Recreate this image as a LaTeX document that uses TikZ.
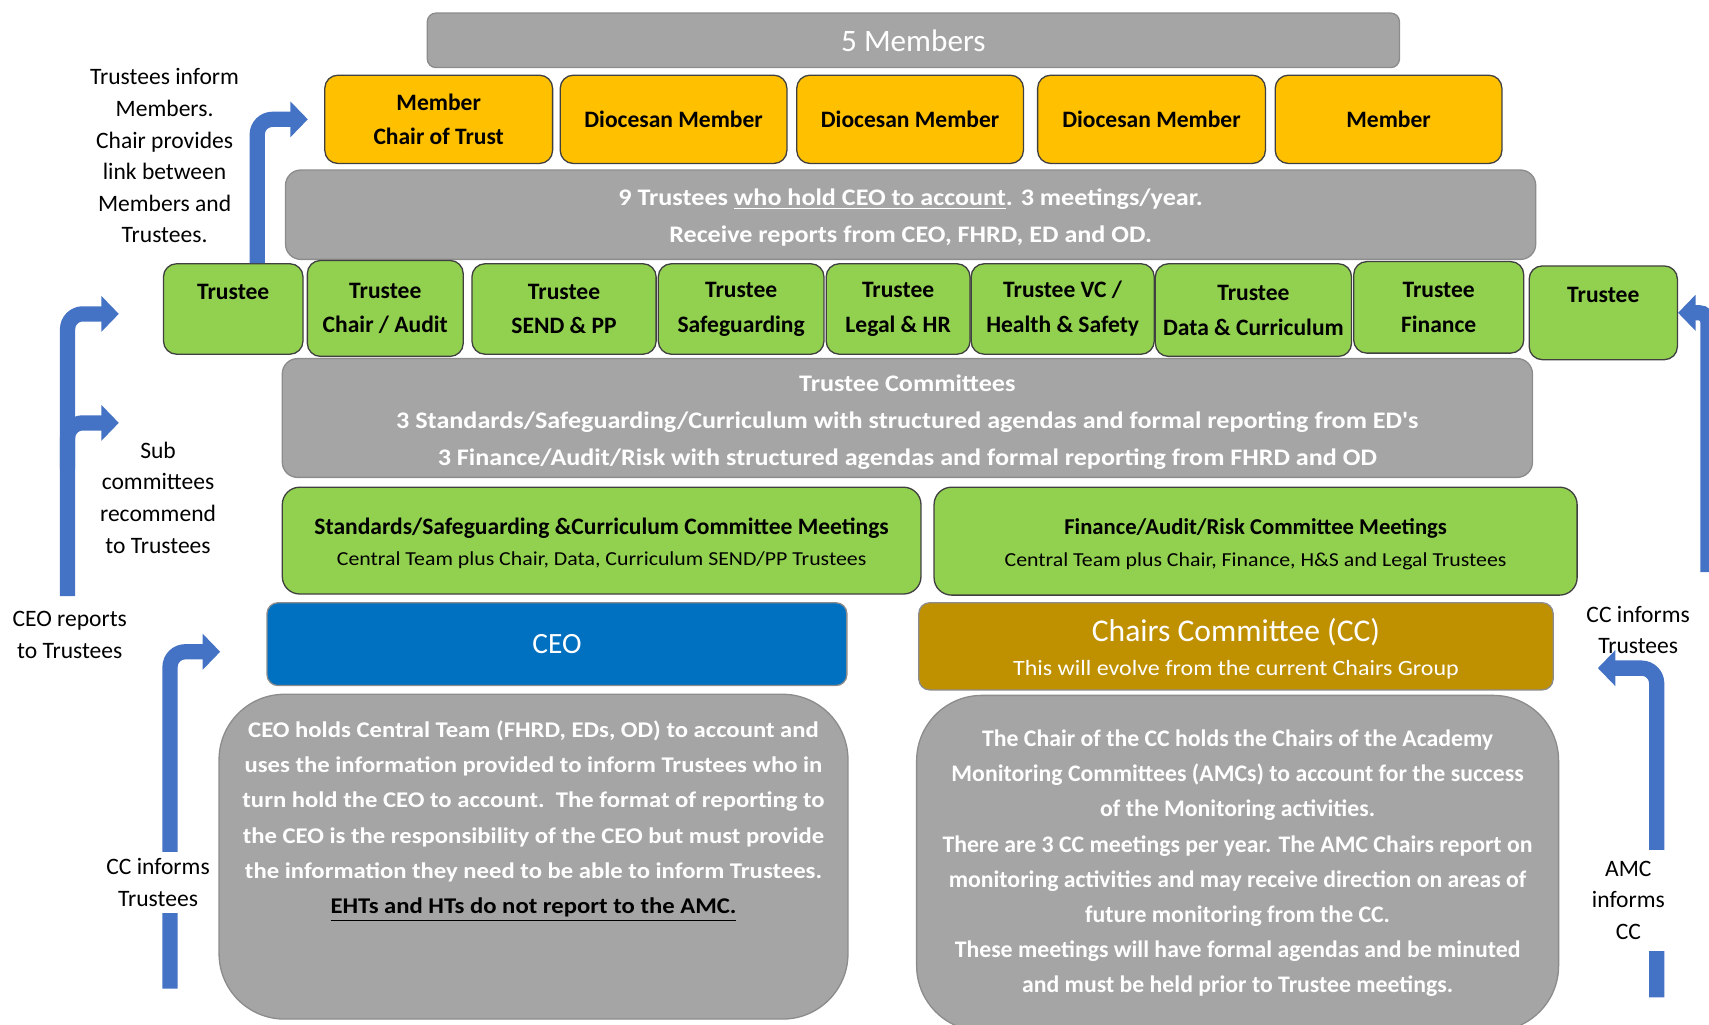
\documentclass[tikz,border=0pt]{standalone}
\usepackage{fontspec}
\setmainfont{Carlito}
\newfontfamily\wideface{Carlito}[FakeStretch=1.1]
\usepackage{tikz}
\usetikzlibrary{arrows.meta}
\definecolor{boxgray}{HTML}{A5A5A5}
\definecolor{grayedge}{HTML}{8C8C8C}
\definecolor{memorange}{HTML}{FFC000}
\definecolor{trgreen}{HTML}{92D050}
\definecolor{ceoblue}{HTML}{0070C0}
\definecolor{ccgold}{HTML}{BF9000}
\definecolor{flowblue}{HTML}{4472C4}
\definecolor{darkedge}{HTML}{404040}
\tikzset{
every node/.style={align=center, inner sep=0pt},
boxbase/.style={ % common look of all boxes
draw, line width=0.6pt, rounded corners=6pt},
topbox/.style={boxbase, fill=boxgray, draw=grayedge, rounded corners=4pt,
text=white, font=\fontsize{14.3}{16}\selectfont},
memberbox/.style={boxbase, fill=memorange, draw=darkedge,
minimum height=40.5pt, font=\bfseries\fontsize{10.8}{16}\selectfont},
graybox/.style={boxbase, fill=boxgray, draw=grayedge, rounded corners=7pt,
text=white, font=\wideface\bfseries\fontsize{10.9}{17}\selectfont},
trusteebox/.style={boxbase, fill=trgreen, draw=darkedge,
minimum height=41.5pt, font=\bfseries\fontsize{10.8}{16}\selectfont},
meetbox/.style={boxbase, fill=trgreen, draw=darkedge, rounded corners=8pt,
font=\wideface\fontsize{9.1}{14.5}\selectfont},
ceobox/.style={boxbase, fill=ceoblue, draw=grayedge, rounded corners=5pt,
text=white, font=\fontsize{13.5}{16}\selectfont},
ccbox/.style={boxbase, fill=ccgold, draw=grayedge, rounded corners=5pt,
text=white, font=\wideface\fontsize{10}{15.5}\selectfont},
notebox/.style={boxbase, fill=boxgray, draw=grayedge, rounded corners=30pt,
text=white, font=\bfseries\fontsize{10.3}{16.2}\selectfont},
sidelabel/.style={font=\fontsize{10.8}{14.5}\selectfont},
flow/.style={ % thick blue bent arrows
draw=flowblue, line width=7pt, rounded corners=7pt,
-{Triangle[width=16pt,length=8pt]}}}

\begin{document}
\begin{tikzpicture}[x=0.5pt, y=-0.5pt]
\clip (0,0) rectangle (1568,940);

% members
\node[topbox, minimum width=446pt, minimum height=25pt] (members) at (838,37) {5 Members};
\node[memberbox, minimum width=104.5pt] (memchair) at (402.5,109.5) {Member\\Chair of Trust};
\node[memberbox, minimum width=104pt] (dioc1) at (618,109.5) {Diocesan Member};
\node[memberbox, minimum width=104pt] (dioc2) at (835,109.5) {Diocesan Member};
\node[memberbox, minimum width=104.5pt] (dioc3) at (1056.5,109.5) {Diocesan Member};
\node[memberbox, minimum width=104pt] (member5) at (1274,109.5) {Member};

% trustees
\node[graybox, minimum width=573.5pt, minimum height=41pt] (board) at (835.5,197)
{\rule{0pt}{10.2pt}9 Trustees \underline{who hold CEO to account}. 3 meetings/year.\\Receive reports from CEO, FHRD, ED and OD.};
\node[trusteebox, minimum width=64pt] (tr1) at (214,283.5) {Trustee\\~};
\node[trusteebox, minimum width=71.5pt, minimum height=44pt] (tr2) at (353.5,283) {Trustee\\Chair / Audit};
\node[trusteebox, minimum width=84.5pt] (tr3) at (517.5,283.5) {Trustee\\SEND \& PP};
\node[trusteebox, minimum width=76pt] (tr4) at (680,283.5) {Trustee\\Safeguarding};
\node[trusteebox, minimum width=66pt] (tr5) at (824,283.5) {Trustee\\Legal \& HR};
\node[trusteebox, minimum width=84pt] (tr6) at (975,283.5) {Trustee VC /\\Health \& Safety};
\node[trusteebox, minimum width=90pt, minimum height=42.5pt] (tr7) at (1150,284.5) {Trustee\\Data \& Curriculum};
\node[trusteebox, minimum width=78pt, minimum height=42pt] (tr8) at (1320,282) {Trustee\\Finance};
\node[trusteebox, minimum width=68pt, minimum height=43pt] (tr9) at (1471,287) {Trustee\\~};

% committees
\node[graybox, minimum width=573.5pt, minimum height=54.5pt] (tcomm) at (832.5,383.5)
{\rule{0pt}{11.2pt}Trustee Committees\\3 Standards/Safeguarding/Curriculum with structured agendas and formal reporting from ED's\\3 Finance/Audit/Risk with structured agendas and formal reporting from FHRD and OD};
\node[meetbox, minimum width=293pt, minimum height=49pt] (stdmeet) at (552,496)
{{\normalfont\bfseries\fontsize{10.8}{14.5}\selectfont\rule{0pt}{10.1pt}Standards/Safeguarding \&Curriculum Committee Meetings}\\Central Team plus Chair, Data, Curriculum SEND/PP Trustees};
\node[meetbox, minimum width=295pt, minimum height=49.5pt] (finmeet) at (1152,496.5)
{{\normalfont\bfseries\fontsize{10.4}{14.5}\selectfont\rule{0pt}{10.1pt}Finance/Audit/Risk Committee Meetings}\\Central Team plus Chair, Finance, H\&S and Legal Trustees};

% CEO and chairs committee
\node[ceobox, minimum width=266pt, minimum height=38pt] (ceo) at (511,591) {CEO};
\node[ccbox, minimum width=291pt, minimum height=40pt] (cc) at (1134,593)
{{\normalfont\fontsize{14.5}{15.5}\selectfont\rule{0pt}{12.5pt}Chairs Committee (CC)}\\This will evolve from the current Chairs Group};
\node[notebox, font=\wideface\bfseries\fontsize{10.3}{16.2}\selectfont, minimum width=288.5pt, minimum height=149pt] (ceonote) at (489.5,786)
{CEO holds Central Team (FHRD, EDs, OD) to account and\\uses the information provided to inform Trustees who in\\turn hold the CEO to account.\ \ The format of reporting to\\the CEO is the responsibility of the CEO but must provide\\the information they need to be able to inform Trustees.\\\textcolor{black}{\underline{EHTs and HTs do not report to the AMC.}}\\[20pt]~};
\node[notebox, font=\bfseries\fontsize{10.9}{16.1}\selectfont, minimum width=294.5pt, minimum height=154pt] (ccnote) at (1135.5,792)
{The Chair of the CC holds the Chairs of the Academy\\Monitoring Committees (AMCs) to account for the success\\of the Monitoring activities.\\There are 3 CC meetings per year. The AMC Chairs report on\\monitoring activities and may receive direction on areas of\\future monitoring from the CC.\\These meetings will have formal agendas and be minuted\\and must be held prior to Trustee meetings.};

% side texts
\node[sidelabel] (linklab) at (151,143) {Trustees inform\\Members.\\Chair provides\\link between\\Members and\\Trustees.};
\node[sidelabel] (sublab) at (145,456.5) {Sub\\committees\\recommend\\to Trustees};
\node[sidelabel] (ceorep) at (64,582.5) {CEO reports\\to Trustees};
\node[sidelabel] (ccinf) at (1503,578) {CC informs\\Trustees};

% free ends of the arrows
\coordinate (subtip1) at (109,288);
\coordinate (subtip2) at (109,388);
\coordinate (subfork) at (62,430);
\coordinate (ceofoot) at (62,547);
\coordinate (ceotip) at (202,598);
\coordinate (ccfoot) at (156,907);
\coordinate (ccinfoot) at (1567,525);
\coordinate (amcfoot) at (1520,915);
\coordinate (cctip) at (1466,613);

\draw[flow] ([xshift=11pt]tr1.north) |- ([xshift=-7.5pt]memchair.west);
\draw[flow] (ceofoot) |- (subtip1);
\draw[flow] (subfork) |- (subtip2);
\draw[flow] (ccfoot) |- (ceotip);
\draw[flow, rounded corners=4pt] (ccinfoot) |- (tr9.east);
\draw[flow] (amcfoot) |- (cctip);

% labels over the arrows
\node[sidelabel, fill=white, inner sep=3pt] (cclab) at (145,809.5) {CC informs\\Trustees};
\node[sidelabel, fill=white, inner xsep=3pt, inner ysep=5pt] (amclab) at (1494,826) {AMC\\informs\\CC};
\end{tikzpicture}
\end{document}
